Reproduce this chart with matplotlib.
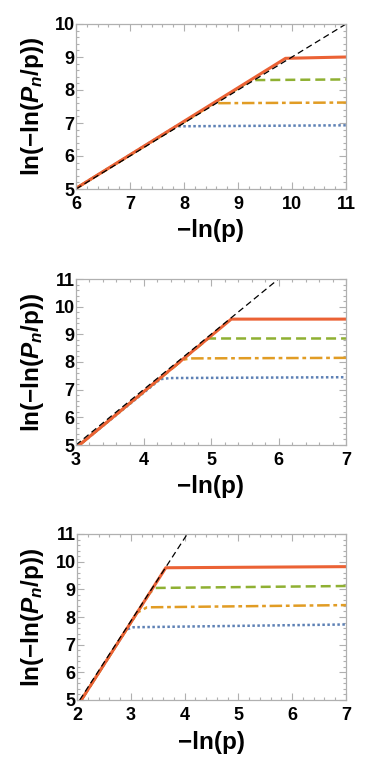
import matplotlib
matplotlib.use("Agg")
import matplotlib.pyplot as plt
from matplotlib.ticker import MultipleLocator

plt.rcParams['font.family'] = ['Liberation Sans', 'DejaVu Sans']
plt.rcParams['font.weight'] = 'bold'
plt.rcParams['mathtext.fontset'] = 'custom'
plt.rcParams['mathtext.rm'] = 'Liberation Sans:bold'
plt.rcParams['mathtext.it'] = 'Liberation Sans:bold:italic'

# colori tipo Mathematica
c_blue = '#5E81B5'
c_orange = '#E19C24'
c_green = '#8FB032'
c_red = '#EB6235'

# pannello 1
p1_xlim = (6, 11)
p1_ylim = (5, 10)
p1_ref_x = [6, 11]
p1_ref_y = [5, 10]
p1_blue_x = [6, 7.85, 11]
p1_blue_y = [5.02, 6.9, 6.93]
p1_orange_x = [6, 8.57, 11]
p1_orange_y = [5.02, 7.6, 7.62]
p1_green_x = [6, 9.25, 11]
p1_green_y = [5.02, 8.3, 8.32]
p1_red_x = [6, 9.88, 11]
p1_red_y = [5.02, 8.96, 9.0]

# pannello 2
p2_xlim = (3, 7)
p2_ylim = (5, 11)
p2_ref_x = [3, 6]
p2_ref_y = [5, 11]
p2_blue_x = [3.05, 4.25, 4.4, 7]
p2_blue_y = [5.0, 7.38, 7.42, 7.45]
p2_orange_x = [3.05, 4.58, 4.7, 7]
p2_orange_y = [5.0, 8.08, 8.13, 8.15]
p2_green_x = [3.05, 4.96, 5.05, 7]
p2_green_y = [5.0, 8.85, 8.85, 8.85]
p2_red_x = [3.05, 5.3, 7]
p2_red_y = [5.0, 9.55, 9.55]

# pannello 3
p3_xlim = (2, 7)
p3_ylim = (5, 11)
p3_ref_x = [2.05, 4.05]
p3_ref_y = [5, 11]
p3_blue_x = [2.08, 2.92, 3.05, 7]
p3_blue_y = [5.0, 7.55, 7.63, 7.73]
p3_orange_x = [2.08, 3.12, 3.2, 3.3, 7]
p3_orange_y = [5.0, 8.16, 8.24, 8.35, 8.43]
p3_green_x = [2.08, 3.35, 3.45, 7]
p3_green_y = [5.0, 8.86, 9.05, 9.12]
p3_red_x = [2.08, 3.65, 7]
p3_red_y = [5.0, 9.78, 9.82]

panels = [
    (p1_xlim, p1_ylim, p1_ref_x, p1_ref_y, p1_blue_x, p1_blue_y, p1_orange_x, p1_orange_y,
     p1_green_x, p1_green_y, p1_red_x, p1_red_y),
    (p2_xlim, p2_ylim, p2_ref_x, p2_ref_y, p2_blue_x, p2_blue_y, p2_orange_x, p2_orange_y,
     p2_green_x, p2_green_y, p2_red_x, p2_red_y),
    (p3_xlim, p3_ylim, p3_ref_x, p3_ref_y, p3_blue_x, p3_blue_y, p3_orange_x, p3_orange_y,
     p3_green_x, p3_green_y, p3_red_x, p3_red_y),
]

W, H = 374, 775
boxes = [(76, 24, 346, 189), (76, 279, 346, 445), (77, 534, 346, 700)]

fig = plt.figure(figsize=(W / 100, H / 100), dpi=100)

for (xl, yl, rx, ry, bx, by, ox, oy, gx, gy, redx, redy), (l, t, r, b) in zip(panels, boxes):
    ax = fig.add_axes([l / W, 1 - b / H, (r - l) / W, (b - t) / H])
    ax.plot(bx, by, color=c_blue, lw=1.8, ls=(0, (1, 1)))
    ax.plot(ox, oy, color=c_orange, lw=1.8, ls=(0, (5, 1.5, 1.5, 1.5)))
    ax.plot(gx, gy, color=c_green, lw=1.8, ls=(0, (4, 2)))
    ax.plot(redx, redy, color=c_red, lw=2.2)
    ax.plot(rx, ry, color='black', lw=0.9, ls=(0, (5, 3)))
    ax.set_xlim(*xl)
    ax.set_ylim(*yl)
    ax.xaxis.set_major_locator(MultipleLocator(1))
    ax.yaxis.set_major_locator(MultipleLocator(1))
    ax.xaxis.set_minor_locator(MultipleLocator(0.2))
    ax.yaxis.set_minor_locator(MultipleLocator(0.2))
    for s in ax.spines.values():
        s.set_color('#b0b0b0')
        s.set_linewidth(0.9)
    ax.tick_params(which='both', direction='in', top=True, right=True, color='#b0b0b0',
                   labelsize=13, width=0.8)
    ax.tick_params(axis='x', pad=5)
    ax.tick_params(axis='y', pad=1)
    ax.tick_params(which='major', length=5)
    ax.tick_params(which='minor', length=2.5)
    for lab in ax.get_xticklabels() + ax.get_yticklabels():
        lab.set_fontweight('bold')
    ax.set_xlabel('\u2212ln(p)', fontsize=17.5, fontweight='bold')
    ax.set_ylabel('ln(\u2212ln($P_n$/p))', fontsize=17.5, fontweight='bold')
    hpx = b - t
    ax.xaxis.set_label_coords(0.5, -42 / hpx)
    ax.yaxis.set_label_coords((33 - l) / (r - l), 0.5)
    ax.xaxis.label.set_va('center')
    ax.yaxis.label.set_va('center')

fig.savefig('out.png', dpi=100)
